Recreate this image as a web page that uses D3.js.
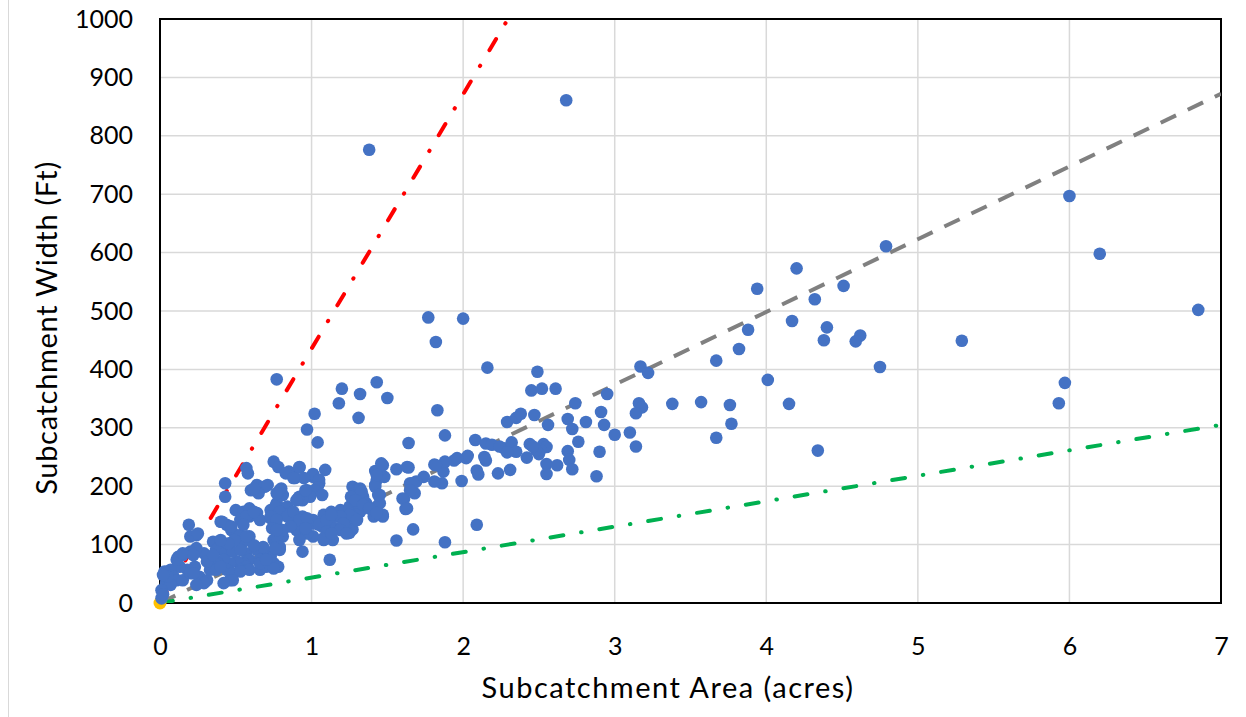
<!DOCTYPE html>
<html>
<head>
<meta charset="utf-8">
<script src="https://cdn.jsdelivr.net/npm/d3@7.9.0/dist/d3.min.js"></script>
<style>
  html, body { margin: 0; padding: 0; background: #fff; }
  svg { display: block; font-family: Lato, "Open Sans", sans-serif; }
</style>
</head>
<body>
<div id="chart"></div>
<script>
// subcatchments: [area (acres), width (ft)]
const subcatchments = [
  // right side / outliers
  [6.0,697],[6.2,598],[6.85,502],[5.29,449],[5.97,377],[5.93,342],[4.79,611],[4.2,573],[3.94,538],
  [4.51,543],[4.32,520],[4.17,483],[4.4,472],[4.38,450],[4.62,458],[4.59,448],[4.75,404],[3.88,468],
  [3.82,435],[3.67,415],[4.01,382],[4.15,341],[4.34,261],[3.38,341],[3.57,344],[3.76,339],[3.77,307],
  [3.67,283],[3.17,405],[3.22,394],[3.16,342],[3.18,335],[3.14,325],[2.95,358],[3.0,288],[3.1,292],
  [3.14,268],[2.91,327],[2.93,305],[2.9,259],[2.88,217],
  // 2 - 3 acres
  [2.68,861],[2.49,396],[2.45,364],[2.52,367],[2.61,367],[2.74,342],[2.56,305],[2.69,315],[2.81,310],
  [2.72,298],[2.76,276],[2.53,272],[2.55,267],[2.51,262],[2.69,260],[2.7,245],[2.55,238],[2.62,236],
  [2.72,229],[2.55,221],[2.29,310],[2.35,317],[2.38,324],[2.47,322],[2.16,403],[2.0,487],[2.08,279],
  [2.15,273],[2.19,271],[2.27,265],[2.32,275],[2.44,272],[2.42,249],[2.5,255],[2.48,262],[2.23,222],
  [2.31,228],[2.15,244],[2.09,227],[2.1,220],[2.02,248],[1.99,209],[2.09,134],[2.24,268],[2.35,259],
  [2.46,268],[2.03,252],[2.14,250],[2.29,258],
  // 1.5 - 2 acres
  [1.77,489],[1.82,447],[1.83,330],[1.88,287],[1.64,274],[1.94,244],[1.87,225],[1.88,242],[1.86,205],
  [1.81,237],[1.81,208],[1.74,216],[1.69,208],[1.68,188],[1.65,205],[1.64,232],[1.56,229],[1.61,178],
  [1.62,161],[1.67,126],[1.56,107],[1.88,104],[1.63,233],[1.67,205],[1.65,193],[1.82,236],[1.6,179],
  [1.63,162],[1.96,248],
  // 1 - 1.5 acres
  [1.38,776],[1.2,367],[1.32,358],[1.43,378],[1.5,351],[1.18,342],[1.31,317],[1.02,324],[1.04,275],
  [1.12,74],[1.47,236],[1.42,226],[1.43,211],[1.48,216],[1.42,202],[1.45,185],[1.43,165],[1.47,148],
  [1.27,199],[1.3,193],[1.34,182],[1.35,167],[1.32,156],[1.28,145],[1.25,136],[1.21,156],[1.16,148],
  [1.1,148],[1.07,131],[1.12,118],[1.2,126],[1.25,120],[1.27,126],[1.08,108],[1.01,114],[1.09,228],
  [1.01,216],[1.05,205],[1.01,221],[1.05,211],[1.04,198],[1.01,142],[1.08,151],[1.13,156],[1.19,159],
  [1.25,165],[1.29,173],[1.32,196],[1.36,171],[1.26,182],[1.25,151],[1.22,131],[1.16,128],[1.19,148],
  [1.12,134],[1.43,225],[1.46,239],[1.45,171],[1.47,151],[1.33,191],[1.29,176],[1.34,168],[1.38,162],
  [1.41,148],[1.3,142],[1.21,136],[1.19,125],[1.14,108],[1.23,119],[1.42,199],[1.44,185],[1.43,219],
  [1.43,154],[1.02,193],[1.07,185],[1.01,136],[1.05,134],[1.1,142],[1.13,151],[1.1,122],[1.08,111],
  [1.13,119],
  // 0.5 - 1 acres
  [0.77,383],[0.97,297],[0.92,233],[0.97,193],[0.99,182],[0.92,182],[0.75,242],[0.78,233],[0.85,225],
  [0.92,232],[0.89,214],[0.8,196],[0.81,185],[0.77,171],[0.84,165],[0.86,154],[0.77,154],[0.73,159],
  [0.73,145],[0.78,128],[0.89,136],[0.94,148],[0.9,125],[0.97,119],[0.81,114],[0.75,108],[0.79,91],
  [0.73,79],[0.75,65],[0.94,88],[0.92,108],[0.92,136],[0.94,176],[0.91,179],[0.95,214],[0.83,222],
  [0.88,214],[0.79,193],[0.76,165],[0.79,156],[0.9,176],[0.96,193],[0.84,148],[0.88,156],[0.92,142],
  [0.97,145],[0.96,128],[0.86,131],[0.81,125],[0.77,114],[0.79,96],[0.73,85],[0.68,91],[0.63,96],
  [0.59,114],[0.55,105],[0.53,116],[0.57,231],[0.58,222],[0.64,202],[0.69,199],[0.6,193],[0.65,188],
  [0.71,202],[0.62,196],[0.77,188],[0.5,159],[0.55,156],[0.59,162],[0.64,154],[0.59,148],[0.66,142],
  [0.73,148],[0.77,142],[0.74,128],[0.77,125],[0.57,85],[0.59,74],[0.55,68],[0.51,71],[0.66,57],
  [0.7,62],[0.75,68],[0.78,62],[0.76,94],[0.64,91],[0.68,96],[0.66,74],[0.62,99],[0.53,142],
  [0.57,148],[0.62,156],[0.55,134],[0.75,59],[0.66,68],[0.7,74],[0.57,62],[0.53,57],[0.59,57],
  // 0 - 0.5 acres
  [0.43,205],[0.43,182],[0.19,134],[0.24,116],[0.2,114],[0.4,139],[0.44,134],[0.47,125],[0.51,116],
  [0.57,114],[0.46,102],[0.4,99],[0.35,105],[0.37,91],[0.43,85],[0.48,88],[0.53,91],[0.46,68],
  [0.42,74],[0.38,68],[0.33,79],[0.29,85],[0.24,94],[0.2,88],[0.15,82],[0.12,79],[0.25,119],
  [0.23,62],[0.18,57],[0.13,62],[0.07,57],[0.03,54],[0.09,45],[0.04,34],[0.11,39],[0.15,39],
  [0.2,51],[0.26,45],[0.31,39],[0.33,57],[0.37,57],[0.44,57],[0.48,51],[0.53,54],[0.46,39],
  [0.29,34],[0.24,31],[0.07,31],[0.49,108],[0.45,102],[0.4,108],[0.41,139],[0.47,131],[0.48,39],
  [0.42,34],[0.22,51],[0.01,22],[0.01,8],[0.11,74],[0.15,85],[0.22,82],[0.31,71],[0.4,62],
  [0.35,82],[0.02,15],[0.05,45],[0.02,48]
];

const origin = [[0, 0]];

// reference lines (flow length), end points
const line100 = [[0, 0], [2.296, 1000]];
const line350 = [[0, 0], [7, 872]];
const line1000 = [[0, 0], [7, 305]];

const xTicks = [0, 1, 2, 3, 4, 5, 6, 7];
const yTicks = [0, 100, 200, 300, 400, 500, 600, 700, 800, 900, 1000];

const width = 1246;
const height = 717;
const plot = { left: 160, right: 1221, top: 19, bottom: 603 };

const svg = d3.select('#chart')
  .append('svg')
  .attr('width', width)
  .attr('height', height);

// chart area edge on the left
svg.append('line')
  .attr('x1', 8.5).attr('x2', 8.5)
  .attr('y1', 0).attr('y2', height)
  .attr('stroke', '#d9d9d9')
  .attr('stroke-width', 1);

const xScale = d3.scaleLinear().domain([0, 7]).range([plot.left, plot.right]);
const yScale = d3.scaleLinear().domain([0, 1000]).range([plot.bottom, plot.top]);

// gridlines
svg.append('g')
  .selectAll('line')
  .data(xTicks.slice(1, -1))
  .join('line')
  .attr('x1', d => xScale(d)).attr('x2', d => xScale(d))
  .attr('y1', plot.top).attr('y2', plot.bottom)
  .attr('stroke', '#d9d9d9')
  .attr('stroke-width', 1.5);

svg.append('g')
  .selectAll('line')
  .data(yTicks.slice(1, -1))
  .join('line')
  .attr('x1', plot.left).attr('x2', plot.right)
  .attr('y1', d => yScale(d)).attr('y2', d => yScale(d))
  .attr('stroke', '#d9d9d9')
  .attr('stroke-width', 1.5);

// axes (labels only, no tick marks)
const xAxis = d3.axisBottom(xScale).tickValues(xTicks).tickFormat(d3.format('d'))
  .tickSize(0).tickPadding(34);
const yAxis = d3.axisLeft(yScale).tickValues(yTicks).tickFormat(d3.format('d'))
  .tickSize(0).tickPadding(27);

const gx = svg.append('g')
  .attr('transform', `translate(0,${plot.bottom})`)
  .call(xAxis);
const gy = svg.append('g')
  .attr('transform', `translate(${plot.left},0)`)
  .call(yAxis);

[gx, gy].forEach(g => {
  g.select('.domain').remove();
  g.selectAll('text')
    .attr('fill', '#000')
    .style('font-size', '25px')
    .style('font-family', 'Lato, "Open Sans", sans-serif');
});

// plot border
svg.append('rect')
  .attr('x', plot.left).attr('y', plot.top)
  .attr('width', plot.right - plot.left)
  .attr('height', plot.bottom - plot.top)
  .attr('fill', 'none')
  .attr('stroke', '#000')
  .attr('stroke-width', 2);

// reference lines, clipped to plot area
svg.append('clipPath').attr('id', 'clip')
  .append('rect')
  .attr('x', plot.left).attr('y', plot.top)
  .attr('width', plot.right - plot.left)
  .attr('height', plot.bottom - plot.top);

const line = d3.line().x(d => xScale(d[0])).y(d => yScale(d[1]));
const lines = svg.append('g').attr('clip-path', 'url(#clip)');

lines.append('path')
  .attr('d', line(line350))
  .attr('fill', 'none')
  .attr('stroke', '#808080')
  .attr('stroke-width', 4)
  .attr('stroke-dasharray', '17,13');

lines.append('path')
  .attr('d', line(line1000))
  .attr('fill', 'none')
  .attr('stroke', '#00B050')
  .attr('stroke-width', 4)
  .attr('stroke-linecap', 'round')
  .attr('stroke-dasharray', '13,18,0.5,18');

lines.append('path')
  .attr('d', line(line100))
  .attr('fill', 'none')
  .attr('stroke', '#FF0000')
  .attr('stroke-width', 4)
  .attr('stroke-linecap', 'round')
  .attr('stroke-dasharray', '13,18,0.5,18');

// origin marker
svg.append('g')
  .selectAll('circle')
  .data(origin)
  .join('circle')
  .attr('cx', d => xScale(d[0]))
  .attr('cy', d => yScale(d[1]))
  .attr('r', 6.5)
  .attr('fill', '#FFC000');

// subcatchment points
svg.append('g')
  .selectAll('circle')
  .data(subcatchments)
  .join('circle')
  .attr('cx', d => xScale(d[0]))
  .attr('cy', d => yScale(d[1]))
  .attr('r', 6.3)
  .attr('fill', '#4472C4');

// axis titles
svg.append('text')
  .attr('x', 668)
  .attr('y', 698)
  .attr('text-anchor', 'middle')
  .style('font-size', '29px')
  .style('letter-spacing', '1.5px')
  .text('Subcatchment Area (acres)');

svg.append('text')
  .attr('transform', 'translate(57,328) rotate(-90)')
  .attr('text-anchor', 'middle')
  .style('font-size', '29px')
  .style('letter-spacing', '0.7px')
  .text('Subcatchment Width (Ft)');
</script>
</body>
</html>
